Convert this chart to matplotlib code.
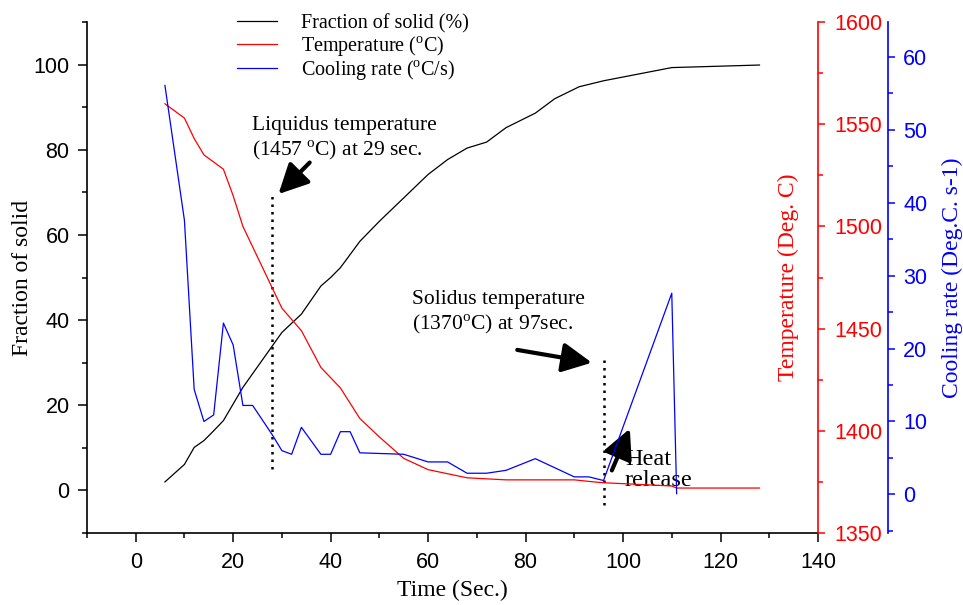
import matplotlib
matplotlib.use("Agg")
import matplotlib.pyplot as plt
from matplotlib.ticker import MultipleLocator
from matplotlib.font_manager import FontProperties

# fraction of solid (%) vs time (s)
t_fs = [6, 10, 12, 14, 16, 18, 20, 22, 30, 34, 38, 40, 42, 46, 50, 60, 64, 68, 72, 76, 82, 86, 91, 96, 110, 128]
fs = [2, 6.1, 10.1, 11.7, 14, 16.4, 20.3, 24.2, 37.1, 41.4, 48, 50, 52.3, 58.5, 63.2, 74.2, 77.7, 80.4, 81.8, 85.2, 88.6, 92, 94.8, 96.2, 99.3, 99.9]

# temperature (deg C)
t_temp = [6, 10, 12, 14, 18, 20, 22, 28, 30, 34, 38, 42, 46, 50, 55, 60, 68, 76, 90, 94, 96, 110, 111, 128]
temp = [1560, 1553, 1543, 1535, 1528, 1515, 1500, 1470, 1460, 1449, 1431, 1421, 1406, 1397, 1386.5, 1381, 1377, 1376, 1376, 1375, 1374.6, 1373, 1372, 1372]

# cooling rate (deg C / s)
t_cr = [6, 10, 12, 14, 16, 18, 20, 22, 24, 26, 28, 30, 32, 34, 38, 40, 42, 44, 46, 55, 60, 64, 68, 72, 76, 82, 90, 93, 96, 110, 111]
cr = [56.1, 37.6, 14.4, 10, 10.9, 23.5, 20.5, 12.2, 12.2, 10.2, 8.2, 6, 5.5, 9.2, 5.5, 5.5, 8.6, 8.6, 5.7, 5.5, 4.45, 4.45, 2.9, 2.9, 3.3, 4.9, 2.4, 2.4, 1.9, 27.6, 0.1]

legend_labels = ["Fraction of solid (%)", r"Temperature ($^{\rm o}$C)", r"Cooling rate ($^{\rm o}$C/s)"]

plt.rcParams["font.family"] = "Liberation Sans"
plt.rcParams["mathtext.fontset"] = "custom"
plt.rcParams["mathtext.rm"] = "Liberation Serif"

serif = FontProperties(family="Liberation Serif", size=17)
serif_small = FontProperties(family="Liberation Serif", size=15.5)
serif_heat = FontProperties(family="Liberation Serif", size=17.5)
serif_leg = FontProperties(family="Liberation Serif", size=14.5)

fig = plt.figure(figsize=(9.63, 6.05), dpi=100)
ax = fig.add_axes([0.0903, 0.119, 0.7591, 0.8446])
ax2 = ax.twinx()
ax3 = ax.twinx()
ax3.spines["right"].set_position(("axes", 1.0958))

l1, = ax.plot(t_fs, fs, color="black", lw=0.9)
l2, = ax2.plot(t_temp, temp, color="red", lw=0.9)
l3, = ax3.plot(t_cr, cr, color="blue", lw=0.9)

ax.set_xlim(-10, 140)
ax.set_ylim(-10, 110)
ax2.set_ylim(1350, 1600)
ax3.set_ylim(-5.3, 64.8)

ax.xaxis.set_major_locator(MultipleLocator(20))
ax.xaxis.set_minor_locator(MultipleLocator(10))
ax.yaxis.set_major_locator(MultipleLocator(20))
ax.yaxis.set_minor_locator(MultipleLocator(10))
ax2.yaxis.set_major_locator(MultipleLocator(50))
ax2.yaxis.set_minor_locator(MultipleLocator(25))
ax3.yaxis.set_major_locator(MultipleLocator(10))
ax3.yaxis.set_minor_locator(MultipleLocator(5))

for a in (ax, ax2, ax3):
    a.spines["top"].set_visible(False)
ax.spines["right"].set_visible(False)
for a in (ax2, ax3):
    a.spines["left"].set_visible(False)
    a.spines["bottom"].set_visible(False)
ax.spines["left"].set_linewidth(1.2)
ax.spines["bottom"].set_linewidth(1.2)
ax2.spines["right"].set_color("red")
ax2.spines["right"].set_linewidth(1.2)
ax3.spines["right"].set_color("blue")
ax3.spines["right"].set_linewidth(1.2)

ax.tick_params(which="major", length=6.5, width=1.1, labelsize=15.5)
ax.tick_params(axis="x", pad=7)
ax.tick_params(axis="y", pad=6)
ax.tick_params(which="minor", length=3.5, width=1.1)
ax2.tick_params(which="major", length=5, width=1.1, labelsize=15.5, colors="red", pad=7)
ax2.tick_params(which="minor", length=3.5, width=1.1, colors="red")
ax3.tick_params(which="major", length=5, width=1.1, labelsize=15.5, colors="blue", pad=6)
ax3.tick_params(which="minor", length=3.5, width=1.1, colors="blue")

ax.set_xlabel("Time (Sec.)", fontproperties=serif, labelpad=5)
ax.set_ylabel("Fraction of solid", fontproperties=serif, labelpad=0)
ax2.set_ylabel("Temperature (Deg. C)", fontproperties=serif, color="red")
ax2.yaxis.set_label_coords(0.945, 0.5)
ax3.set_ylabel("Cooling rate (Deg.C. s-1)", fontproperties=serif, color="blue")
ax3.yaxis.set_label_coords(1.17, 0.5)

# liquidus / solidus markers
ax.plot([28, 28], [5, 70], color="black", ls=(0, (1, 2)), lw=1.8)
ax.plot([96, 96], [-3.5, 31.6], color="black", ls=(0, (1, 2)), lw=1.8)

arrow = dict(arrowstyle="-|>,head_length=0.9,head_width=0.45", mutation_scale=20, lw=3, color="black",
             shrinkA=0, shrinkB=0)
ax.text(23.8, 88, "Liquidus temperature\n(1457 $^{\\rm o}$C) at 29 sec.", fontproperties=serif_small,
        va="top", ha="left")
ax.annotate("", xy=(29.3, 69.6), xytext=(35.7, 77), arrowprops=arrow)
ax.text(56.6, 47, "Solidus temperature\n(1370$^{\\rm o}$C) at 97sec.", fontproperties=serif_small,
        va="top", ha="left")
ax.annotate("", xy=(93.6, 30), xytext=(78.3, 33), arrowprops=arrow)
ax.text(100.4, 9.8, "Heat\nrelease", fontproperties=serif_heat, va="top", ha="left", linespacing=1.0)
ax.annotate("", xy=(101.4, 14.5), xytext=(97.7, 4.7), arrowprops=arrow)

ax3.legend([l1, l2, l3], legend_labels, loc="upper left", bbox_to_anchor=(0.246, 0.977),
           bbox_transform=fig.transFigure, frameon=False, prop=serif_leg, handlelength=2,
           handletextpad=1.2, labelspacing=0.02, borderpad=0, borderaxespad=0)

fig.savefig("out.png", dpi=100)
